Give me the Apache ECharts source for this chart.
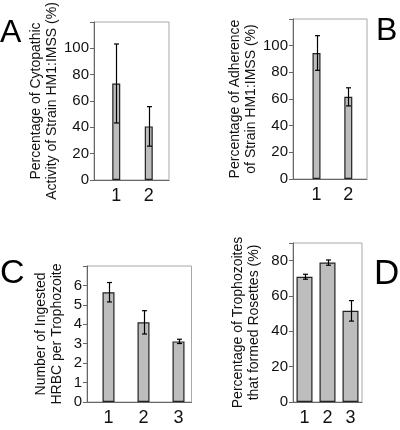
<!DOCTYPE html>
<html><head><meta charset="utf-8">
<script src="https://cdn.jsdelivr.net/npm/echarts@6/dist/echarts.min.js"></script>
<style>html,body{margin:0;padding:0;background:#fff}#c{width:400px;height:430px}</style>
</head><body><div id="c"></div>
<script>
// Panel A
var catsA = ['1', '2'];
var valsA = [73.3, 40.7];
var errA = [30, 15];
var ticksA = [0, 20, 40, 60, 80, 100];
var nameA = 'Percentage of Cytopathic\nActivity of Strain HM1:IMSS (%)';
// Panel B
var catsB = ['1', '2'];
var valsB = [94.5, 61.6];
var errB = [13, 6.8];
var ticksB = [0, 20, 40, 60, 80, 100];
var nameB = 'Percentage of Adherence\nof Strain HM1:IMSS (%)';
// Panel C
var catsC = ['1', '2', '3'];
var valsC = [5.65, 4.1, 3.12];
var errC = [0.5, 0.6, 0.11];
var ticksC = [0, 1, 2, 3, 4, 5, 6];
var nameC = 'Number of Ingested\nHRBC per Trophozoite';
// Panel D
var catsD = ['1', '2', '3'];
var valsD = [70.9, 78.9, 51.6];
var errD = [1.4, 1.5, 5.8];
var ticksD = [0, 20, 40, 60, 80];
var nameD = 'Percentage of Trophozoites\nthat formed Rosettes (%)';
var letters = ['A', 'B', 'C', 'D'];

var FONT = 'Liberation Sans, Arial, sans-serif';
var panels = [
  {cats: catsA, vals: valsA, err: errA, ticks: ticksA, name: nameA, max: 120, interval: 20,
   frame: {left: 94, top: 22, width: 75, height: 158}, data: {left: 100, width: 65}, bw: 8, gap: 33},
  {cats: catsB, vals: valsB, err: errB, ticks: ticksB, name: nameB, max: 120, interval: 20,
   frame: {left: 293, top: 19, width: 74, height: 160}, data: {left: 300.6, width: 63.6}, bw: 8, gap: 31},
  {cats: catsC, vals: valsC, err: errC, ticks: ticksC, name: nameC, max: 7, interval: 1,
   frame: {left: 87, top: 266, width: 104.5, height: 136}, data: {left: 91, width: 105}, bw: 12, gap: 22},
  {cats: catsD, vals: valsD, err: errD, ticks: ticksD, name: nameD, max: 90, interval: 20,
   frame: {left: 293, top: 243, width: 69, height: 159}, data: {left: 293, width: 69}, bw: 16, gap: 31}
];

var grid = [], xAxis = [], yAxis = [], series = [];
panels.forEach(function (p, i) {
  var fg = 2 * i, dg = 2 * i + 1;
  grid.push({left: p.frame.left, top: p.frame.top, width: p.frame.width, height: p.frame.height,
    containLabel: false, outerBoundsMode: 'none',
    show: true, borderColor: '#a8a8a8', borderWidth: 1, backgroundColor: 'transparent'});
  grid.push({left: p.data.left, top: p.frame.top, width: p.data.width, height: p.frame.height,
    containLabel: false, outerBoundsMode: 'none'});
  var lastTick = p.ticks[p.ticks.length - 1];
  xAxis.push({gridIndex: fg, type: 'value', min: 0, max: 1, axisLine: {show: true, onZero: false, lineStyle: {color: '#666', width: 1}},
    axisTick: {show: false}, axisLabel: {show: false}, splitLine: {show: false}});
  yAxis.push({gridIndex: fg, type: 'value', min: 0, max: p.max, interval: p.interval,
    axisLine: {show: true, lineStyle: {color: '#666', width: 1}},
    axisTick: {show: true, length: 4, lineStyle: {color: '#666'}},
    axisLabel: {color: '#111', fontSize: 15, fontFamily: FONT, margin: 5,
      formatter: function (v) { return v <= lastTick ? String(v) : ''; }},
    splitLine: {show: false},
    name: p.name, nameLocation: 'middle', nameRotate: 90, nameGap: p.gap,
    nameTextStyle: {color: '#111', fontSize: 14, fontFamily: FONT, lineHeight: 16}});
  xAxis.push({gridIndex: dg, type: 'category', data: p.cats, axisLine: {show: false}, axisTick: {show: false},
    axisLabel: {color: '#111', fontSize: 18, fontFamily: FONT, margin: 7}, splitLine: {show: false}});
  yAxis.push({gridIndex: dg, type: 'value', min: 0, max: p.max, show: false, splitLine: {show: false}});
  series.push({type: 'bar', xAxisIndex: dg, yAxisIndex: dg, data: p.vals, barWidth: p.bw,
    itemStyle: {color: '#bdbdbd', borderColor: '#222', borderWidth: 1.2}, silent: true, animation: false});
  var ed = p.vals.map(function (v, k) { return [k, v, p.err[k]]; });
  series.push({type: 'custom', xAxisIndex: dg, yAxisIndex: dg, data: ed, silent: true, animation: false, z: 5,
    encode: {x: 0, y: 1},
    renderItem: function (params, api) {
      var x = api.value(0), v = api.value(1), e = api.value(2);
      var hi = api.coord([x, v + e]), lo = api.coord([x, v - e]);
      var cx = Math.round(hi[0]) + 0.5, h = 2.5;
      var st = {stroke: '#000', lineWidth: 1.2};
      return {type: 'group', children: [
        {type: 'line', shape: {x1: cx, y1: hi[1], x2: cx, y2: lo[1]}, style: st},
        {type: 'line', shape: {x1: cx - h, y1: hi[1], x2: cx + h, y2: hi[1]}, style: st},
        {type: 'line', shape: {x1: cx - h, y1: lo[1], x2: cx + h, y2: lo[1]}, style: st}
      ]};
    }});
});

var chart = echarts.init(document.getElementById('c'), null, {renderer: 'canvas'});
chart.setOption({
  animation: false,
  grid: grid, xAxis: xAxis, yAxis: yAxis, series: series,
  graphic: [
    {type: 'text', left: 0, top: 17, style: {text: letters[0], fontSize: 32, fontFamily: FONT, fill: '#000'}},
    {type: 'text', left: 376, top: 15, style: {text: letters[1], fontSize: 32, fontFamily: FONT, fill: '#000'}},
    {type: 'text', left: 0, top: 257, style: {text: letters[2], fontSize: 34, fontFamily: FONT, fill: '#000'}},
    {type: 'text', left: 374, top: 257, style: {text: letters[3], fontSize: 35, fontFamily: FONT, fill: '#000'}}
  ]
});
</script></body></html>
